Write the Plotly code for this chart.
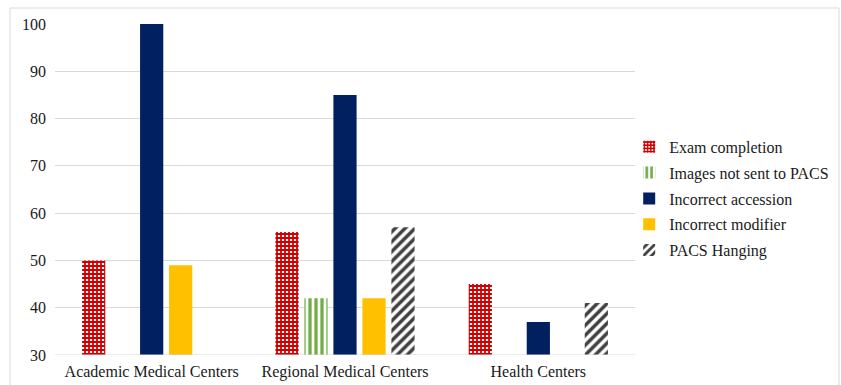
import plotly.graph_objects as go

categories = ["Academic Medical Centers", "Regional Medical Centers", "Health Centers"]
exam_completion = [50, 56, 45]
images_not_sent = [30, 42, 30]
incorrect_accession = [100, 85, 37]
incorrect_modifier = [49, 42, 30]
pacs_hanging = [30, 57, 41]

FONT = "Liberation Serif, Times New Roman, serif"

series = [
    ("Exam completion", exam_completion,
     dict(color="white", pattern=dict(shape="+", fgcolor="#d00000", bgcolor="white",
                                      size=4, solidity=0.7, fillmode="replace"))),
    ("Images not sent to PACS", images_not_sent,
     dict(color="white", pattern=dict(shape="|", fgcolor="#70ad47", bgcolor="white",
                                      size=6, solidity=0.55, fillmode="replace"))),
    ("Incorrect accession", incorrect_accession, dict(color="#002060")),
    ("Incorrect modifier", incorrect_modifier, dict(color="#ffc000")),
    ("PACS Hanging", pacs_hanging,
     dict(color="white", pattern=dict(shape="/", fgcolor="#404040", bgcolor="white",
                                      size=7, solidity=0.5, fillmode="replace"))),
]

fig = go.Figure()
for i, (name, vals, marker) in enumerate(series):
    fig.add_trace(go.Bar(
        name=name, x=categories, y=vals, marker=dict(line=dict(width=0), **marker),
        legendgroup=f"g{i}",
    ))

fig.update_layout(
    width=841, height=385,
    margin=dict(l=55, r=206, t=24, b=30, autoexpand=False),
    paper_bgcolor="white", plot_bgcolor="white",
    barmode="group", bargap=0.25, bargroupgap=0.2,
    font=dict(family=FONT, size=16, color="#1a1a1a"),
    showlegend=True,
    legend=dict(x=0.99, y=0.68, xanchor="left", yanchor="top",
                font=dict(family=FONT, size=16, color="#1a1a1a"),
                tracegroupgap=2, itemwidth=30, bgcolor="rgba(0,0,0,0)"),
    xaxis=dict(showgrid=False, showline=False, ticks="", tickfont=dict(size=16),
               ticklabelstandoff=5),
    yaxis=dict(range=[30, 100], dtick=10, showgrid=True, gridcolor="#d9d9d9",
               gridwidth=1, zeroline=False, showline=False, ticks="",
               tickfont=dict(size=16), ticklabelstandoff=8),
    shapes=[
        dict(type="rect", xref="paper", yref="paper",
             x0=(10 - 55) / 580, x1=(839 - 55) / 580,
             y0=(355 - 395) / 331, y1=(355 - 8) / 331,
             line=dict(color="#d9d9d9", width=1), fillcolor="rgba(0,0,0,0)", layer="below"),
        dict(type="line", xref="paper", yref="y", x0=0, x1=1, y0=30, y1=30,
             line=dict(color="#d9d9d9", width=1)),
    ],
)

fig.write_html("out.html")
